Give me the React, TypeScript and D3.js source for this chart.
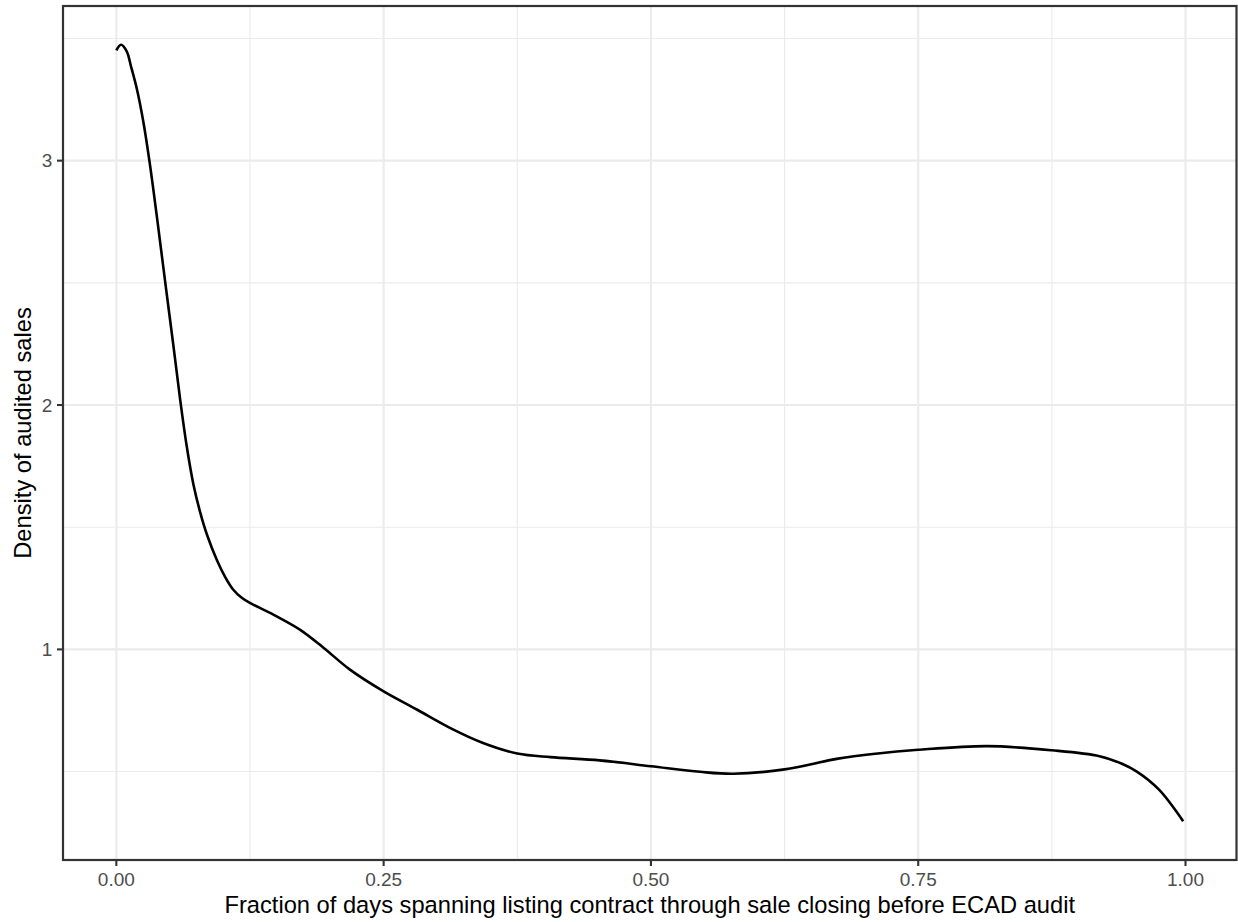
import React from "react";
import * as d3 from "d3";

const densityX = [
  0.0, 0.0044, 0.0097, 0.01375, 0.0191, 0.025, 0.0309, 0.0378, 0.0455, 0.0533,
  0.0596, 0.0658, 0.072, 0.0783, 0.0848, 0.0939, 0.1017, 0.1094, 0.1173, 0.125,
  0.15, 0.172, 0.194, 0.2185, 0.25, 0.281, 0.312, 0.343, 0.375, 0.406, 0.452,
  0.5, 0.546, 0.577, 0.625, 0.675, 0.71, 0.75, 0.8145, 0.875, 0.9195, 0.94,
  0.9545, 0.975, 0.9978,
];
const densityY = [
  3.451, 3.474, 3.447, 3.385, 3.295, 3.165, 3.0, 2.775, 2.51, 2.245,
  2.025, 1.832, 1.677, 1.563, 1.469, 1.367, 1.297, 1.244, 1.211, 1.19,
  1.135, 1.08, 1.006, 0.917, 0.828, 0.754, 0.679, 0.617, 0.574, 0.559, 0.546,
  0.522, 0.499, 0.491, 0.509, 0.553, 0.573, 0.589, 0.604, 0.587, 0.563, 0.533,
  0.5, 0.427, 0.297,
];
const xTicks = [0, 0.25, 0.5, 0.75, 1.0];
const xTickLabels = ["0.00", "0.25", "0.50", "0.75", "1.00"];
const xMinor = [0.125, 0.375, 0.625, 0.875];
const yTicks = [1, 2, 3];
const yTickLabels = ["1", "2", "3"];
const yMinor = [0.5, 1.5, 2.5, 3.5];
const xTitle =
  "Fraction of days spanning listing contract through sale closing before ECAD audit";
const yTitle = "Density of audited sales";

const W = 1238;
const H = 922;
const panel = { left: 63, right: 1236.5, top: 6, bottom: 860 };
const FONT = "'Liberation Sans', Arial, Helvetica, sans-serif";

export default function App() {
  const pts = densityX.map((x, i) => [x, densityY[i]] as [number, number]);
  const xe = d3.extent(densityX) as [number, number];
  const ye = d3.extent(densityY) as [number, number];
  const xr = xe[1] - xe[0];
  const yr = ye[1] - ye[0];
  const x = d3
    .scaleLinear()
    .domain([xe[0] - 0.05 * xr, xe[1] + 0.05 * xr])
    .range([panel.left, panel.right]);
  const y = d3
    .scaleLinear()
    .domain([ye[0] - 0.05 * yr, ye[1] + 0.05 * yr])
    .range([panel.bottom, panel.top]);
  const line = d3
    .line<[number, number]>()
    .x((d) => x(d[0]))
    .y((d) => y(d[1]))
    .curve(d3.curveCatmullRom.alpha(0.5));

  const gridMajor = "#EBEBEB";
  const axisCol = "#333333";
  const tickCol = "#4D4D4D";

  return (
    <svg
      width={W}
      height={H}
      style={{ position: "absolute", left: 0, top: 0, background: "#fff" }}
      fontFamily={FONT}
    >
      <rect x={0} y={0} width={W} height={H} fill="#fff" />
      <g>
        {xMinor.map((v) => (
          <line key={"xm" + v} x1={x(v)} x2={x(v)} y1={panel.top} y2={panel.bottom} stroke={gridMajor} strokeWidth={1.1} />
        ))}
        {yMinor.map((v) =>
          y(v) > panel.top && y(v) < panel.bottom ? (
            <line key={"ym" + v} x1={panel.left} x2={panel.right} y1={y(v)} y2={y(v)} stroke={gridMajor} strokeWidth={1.1} />
          ) : null
        )}
        {xTicks.map((v) => (
          <line key={"xM" + v} x1={x(v)} x2={x(v)} y1={panel.top} y2={panel.bottom} stroke={gridMajor} strokeWidth={2.1} />
        ))}
        {yTicks.map((v) => (
          <line key={"yM" + v} x1={panel.left} x2={panel.right} y1={y(v)} y2={y(v)} stroke={gridMajor} strokeWidth={2.1} />
        ))}
      </g>
      <path d={line(pts) || ""} fill="none" stroke="#000" strokeWidth={2.6} strokeLinejoin="round" />
      <rect
        x={panel.left}
        y={panel.top}
        width={panel.right - panel.left}
        height={panel.bottom - panel.top}
        fill="none"
        stroke={axisCol}
        strokeWidth={2.2}
      />
      {xTicks.map((v, i) => (
        <g key={"xt" + v}>
          <line x1={x(v)} x2={x(v)} y1={panel.bottom} y2={panel.bottom + 6} stroke={axisCol} strokeWidth={2.1} />
          <text x={x(v)} y={886} textAnchor="middle" fontSize={19} fill={tickCol}>
            {xTickLabels[i]}
          </text>
        </g>
      ))}
      {yTicks.map((v, i) => (
        <g key={"yt" + v}>
          <line x1={panel.left - 6} x2={panel.left} y1={y(v)} y2={y(v)} stroke={axisCol} strokeWidth={2.1} />
          <text x={52.4} y={y(v)} dy="0.36em" textAnchor="end" fontSize={19} fill={tickCol}>
            {yTickLabels[i]}
          </text>
        </g>
      ))}
      <text x={(panel.left + panel.right) / 2} y={913} textAnchor="middle" fontSize={23.7} fill="#000">
        {xTitle}
      </text>
      <text
        transform={`translate(31,${(panel.top + panel.bottom) / 2}) rotate(-90)`}
        textAnchor="middle"
        fontSize={23.7}
        fill="#000"
      >
        {yTitle}
      </text>
    </svg>
  );
}
